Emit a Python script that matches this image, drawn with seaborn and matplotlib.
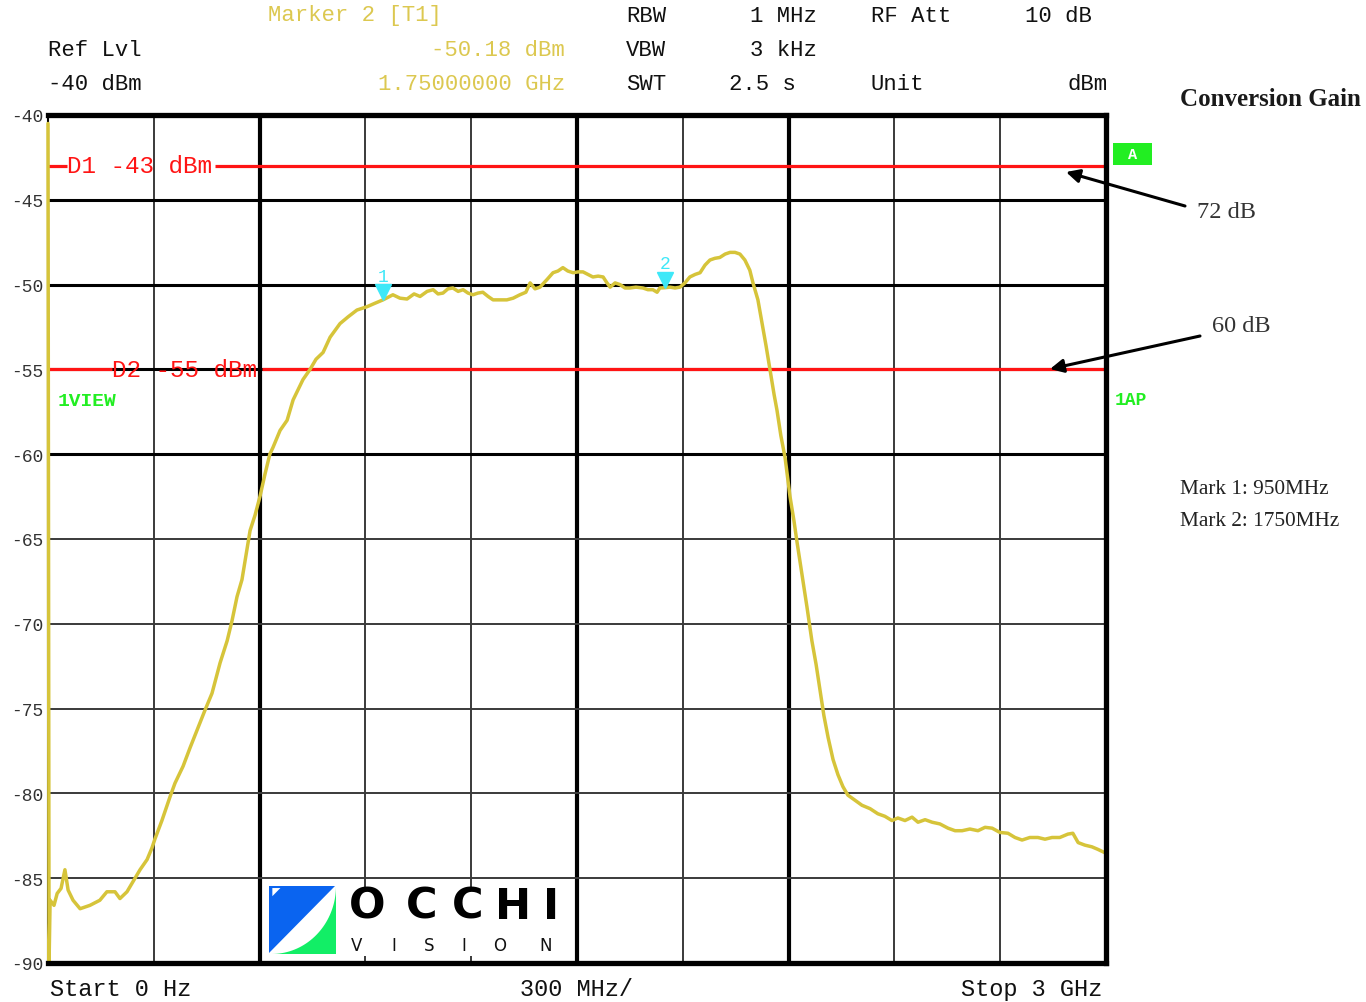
import numpy as np
import pandas as pd
import matplotlib
matplotlib.use("Agg")
import matplotlib.pyplot as plt
from matplotlib.patches import Polygon, Rectangle, FancyArrowPatch
import seaborn as sns

# ---------------- data ----------------
freq_ghz = [0.000, 0.003, 0.006, 0.017, 0.026, 0.037, 0.048, 0.057, 0.071, 0.091,
            0.119, 0.147, 0.167, 0.190, 0.204, 0.224, 0.241, 0.261, 0.281, 0.295,
            0.303, 0.323, 0.346, 0.360, 0.383, 0.403, 0.422, 0.445, 0.465, 0.488,
            0.508, 0.522, 0.536, 0.550, 0.573, 0.587, 0.601, 0.615, 0.629, 0.638,
            0.658, 0.678, 0.695, 0.723, 0.743, 0.760, 0.780, 0.800, 0.828, 0.851,
            0.876, 0.905, 0.927, 0.950, 0.978, 0.998, 1.018, 1.038, 1.055, 1.075,
            1.092, 1.106, 1.120, 1.134, 1.148, 1.163, 1.177, 1.191, 1.205, 1.219,
            1.233, 1.248, 1.262, 1.282, 1.301, 1.319, 1.338, 1.355, 1.367, 1.381,
            1.395, 1.415, 1.432, 1.446, 1.460, 1.474, 1.489, 1.503, 1.517, 1.531,
            1.545, 1.560, 1.574, 1.585, 1.594, 1.608, 1.622, 1.636, 1.650, 1.667,
            1.687, 1.701, 1.715, 1.727, 1.735, 1.750, 1.764, 1.778, 1.792, 1.806,
            1.820, 1.835, 1.849, 1.863, 1.877, 1.891, 1.905, 1.920, 1.934, 1.948,
            1.962, 1.976, 1.990, 1.999, 2.013, 2.025, 2.036, 2.047, 2.059, 2.067,
            2.078, 2.090, 2.098, 2.104, 2.115, 2.124, 2.138, 2.152, 2.166, 2.178,
            2.189, 2.200, 2.212, 2.226, 2.240, 2.254, 2.268, 2.288, 2.308, 2.331,
            2.353, 2.373, 2.393, 2.410, 2.430, 2.450, 2.467, 2.487, 2.507, 2.529,
            2.552, 2.572, 2.592, 2.614, 2.637, 2.657, 2.677, 2.699, 2.722, 2.742,
            2.762, 2.784, 2.807, 2.827, 2.847, 2.869, 2.892, 2.906, 2.921, 2.940,
            2.960, 2.977, 2.997]
level_dbm = [-40.5, -90.0, -86.3, -86.6, -85.9, -85.6, -84.5, -85.7, -86.3, -86.8,
             -86.6, -86.3, -85.8, -85.8, -86.2, -85.8, -85.2, -84.5, -83.9, -83.2,
             -82.7, -81.6, -80.2, -79.4, -78.4, -77.3, -76.3, -75.1, -74.1, -72.3,
             -71.0, -69.8, -68.4, -67.4, -64.5, -63.6, -62.5, -61.2, -60.0, -59.6,
             -58.6, -58.0, -56.8, -55.6, -55.0, -54.4, -54.0, -53.1, -52.3, -51.9,
             -51.5, -51.3, -51.1, -50.9, -50.6, -50.8, -50.85, -50.55, -50.7, -50.4,
             -50.3, -50.55, -50.5, -50.25, -50.2, -50.4, -50.3, -50.5, -50.6, -50.5,
             -50.45, -50.7, -50.9, -50.9, -50.9, -50.8, -50.6, -50.45, -49.9, -50.25,
             -50.15, -49.7, -49.3, -49.2, -49.0, -49.2, -49.3, -49.25, -49.25, -49.4,
             -49.55, -49.5, -49.55, -49.9, -50.15, -49.9, -50.0, -50.2, -50.2, -50.15,
             -50.2, -50.3, -50.3, -50.45, -50.2, -50.18, -50.15, -50.2, -50.15, -49.9,
             -49.55, -49.4, -49.3, -48.85, -48.55, -48.45, -48.4, -48.2, -48.1, -48.1,
             -48.2, -48.55, -49.15, -49.9, -50.9, -52.3, -53.6, -55.0, -56.5, -57.4,
             -58.9, -60.2, -61.5, -62.5, -63.9, -65.2, -67.1, -69.0, -71.0, -72.4,
             -73.9, -75.4, -76.7, -78.0, -78.9, -79.6, -80.1, -80.4, -80.7, -80.9,
             -81.2, -81.35, -81.6, -81.45, -81.6, -81.4, -81.7, -81.55, -81.7, -81.8,
             -82.05, -82.2, -82.2, -82.1, -82.2, -82.0, -82.05, -82.3, -82.35, -82.6,
             -82.75, -82.6, -82.6, -82.7, -82.6, -82.6, -82.4, -82.35, -82.9, -83.05,
             -83.15, -83.3, -83.5]

marker_freq = [0.95, 1.75]
marker_level = [-50.9, -50.18]
marker_names = ["1", "2"]

display_lines = [-43, -55]
display_labels = ["D1 -43 dBm", "D2 -55 dBm"]

ytick_values = [-40, -45, -50, -55, -60, -65, -70, -75, -80, -85, -90]
ytick_labels = [str(v) for v in ytick_values]

# ---------------- figure ----------------
sns.set_style("white")
plt.rcParams['font.family'] = ['DejaVu Sans']
W, H = 1366, 1003
fig = plt.figure(figsize=(W / 100, H / 100), dpi=100)
fig.patch.set_facecolor("white")

def fx(px):
    return px / W

def fy(py):
    return 1 - py / H

L, R, T, B = 48, 1106, 116, 964
ax = fig.add_axes([fx(L), fy(B), (R - L) / W, (B - T) / H])
ax.set_xlim(0, 3)
ax.set_ylim(-90, -40)

def px2f(px):
    return (px - L) / (R - L) * 3

# grid
thin_v = [0.3, 0.9, 1.2, 1.8, 2.4, 2.7]
thick_v = [0.6, 1.5, 2.1]
for v in thin_v:
    ax.axvline(v, color="#3a3a3a", lw=1.4, zorder=1)
for v in thick_v:
    ax.axvline(v, color="black", lw=3.0, zorder=1)
for h in [-65, -70, -75, -80, -85]:
    ax.axhline(h, color="#3a3a3a", lw=1.4, zorder=1)
for h in [-45, -50, -55, -60]:
    ax.axhline(h, color="black", lw=2.2, zorder=1)

# display lines (red) with gaps for their labels
gaps = [(67, 215), (112, 262)]
red = "#ff1414"
mono = "Liberation Mono"
for lvl, lab, (g0, g1) in zip(display_lines, display_labels, gaps):
    ax.plot([0, px2f(g0)], [lvl, lvl], color=red, lw=2.3, zorder=2, solid_capstyle="butt")
    ax.plot([px2f(g1), 3], [lvl, lvl], color=red, lw=2.3, zorder=2, solid_capstyle="butt")
    ax.text(px2f(g0), lvl, lab, color=red, family=mono, fontsize=17.5,
            va="center", ha="left", zorder=3)

# trace
df = pd.DataFrame({"freq": freq_ghz, "level": level_dbm})
sns.lineplot(data=df, x="freq", y="level", color="#d6c43a", lw=2.5, ax=ax,
             sort=False, estimator=None, zorder=4, clip_on=False)

# markers
cyan = "#3ee8f8"
for f, lv, nm in zip(marker_freq, marker_level, marker_names):
    ax.plot([f], [lv + 0.45], marker="v", color=cyan, markersize=11, zorder=6, ls="none")
    ax.text(f, lv + 0.9, nm, color=cyan, family=mono, fontsize=13,
            ha="center", va="bottom", zorder=6)

# axes styling
ax.set_xlabel("")
ax.set_ylabel("")
ax.set_xticks([])
ax.set_yticks(ytick_values)
ax.set_yticklabels(ytick_labels, family=mono, fontsize=13, color="#333333")
ax.tick_params(axis="y", length=0, pad=3)
for side in ["top", "bottom", "right"]:
    ax.spines[side].set_linewidth(3.8)
    ax.spines[side].set_color("black")
    ax.spines[side].set_zorder(7)
ax.spines["left"].set_linewidth(1.5)
ax.spines["left"].set_color("black")

ax.text(px2f(58), -56.86, "1VIEW", color="#22ee22", family=mono, fontsize=14,
        fontweight="bold", ha="left", va="center", zorder=5)

# white background behind logo
ax.add_patch(Rectangle((px2f(264), -89.6), px2f(570) - px2f(264), 4.1,
                       facecolor="white", edgecolor="none", zorder=5))

# ---------------- header text ----------------
yellow = "#dcc850"
dark = "#111111"
hs = 16
fig.text(fx(268), fy(16), "Marker 2 [T1]", color=yellow, family=mono, fontsize=hs, va="center", ha="left")
fig.text(fx(48), fy(50), "Ref Lvl", color=dark, family=mono, fontsize=hs, va="center", ha="left")
fig.text(fx(565), fy(50), "-50.18 dBm", color=yellow, family=mono, fontsize=hs, va="center", ha="right")
fig.text(fx(48), fy(84), "-40 dBm", color=dark, family=mono, fontsize=hs, va="center", ha="left")
fig.text(fx(565), fy(84), "1.75000000 GHz", color=yellow, family=mono, fontsize=hs, va="center", ha="right")
fig.text(fx(626), fy(16), "RBW", color=dark, family=mono, fontsize=hs, va="center", ha="left")
fig.text(fx(817), fy(16), "1 MHz", color=dark, family=mono, fontsize=hs, va="center", ha="right")
fig.text(fx(871), fy(16), "RF Att", color=dark, family=mono, fontsize=hs, va="center", ha="left")
fig.text(fx(1092), fy(16), "10 dB", color=dark, family=mono, fontsize=hs, va="center", ha="right")
fig.text(fx(626), fy(50), "VBW", color=dark, family=mono, fontsize=hs, va="center", ha="left")
fig.text(fx(817), fy(50), "3 kHz", color=dark, family=mono, fontsize=hs, va="center", ha="right")
fig.text(fx(626), fy(84), "SWT", color=dark, family=mono, fontsize=hs, va="center", ha="left")
fig.text(fx(729), fy(84), "2.5 s", color=dark, family=mono, fontsize=hs, va="center", ha="left")
fig.text(fx(871), fy(84), "Unit", color=dark, family=mono, fontsize=hs, va="center", ha="left")
fig.text(fx(1108), fy(84), "dBm", color=dark, family=mono, fontsize=hs, va="center", ha="right")

# bottom labels
bs = 17
fig.text(fx(50), fy(990), "Start 0 Hz", color=dark, family=mono, fontsize=bs, va="center", ha="left")
fig.text(fx(520), fy(990), "300 MHz/", color=dark, family=mono, fontsize=bs, va="center", ha="left")
fig.text(fx(1102), fy(990), "Stop 3 GHz", color=dark, family=mono, fontsize=bs, va="center", ha="right")

# right side
fig.patches.append(Rectangle((fx(1113), fy(166)), (1152 - 1113) / W, (166 - 144) / H,
                             transform=fig.transFigure, facecolor="#22ee22", edgecolor="none"))
fig.text(fx(1132.5), fy(155), "A", color="white", family=mono, fontsize=11, fontweight="bold",
         ha="center", va="center")
fig.text(fx(1115), fy(401), "1AP", color="#22ee22", family=mono, fontsize=13, fontweight="bold",
         ha="left", va="center")

serif = "Liberation Serif"
fig.text(fx(1180), fy(100), "Conversion Gain", color="#1a1a1a", family=serif, fontsize=18,
         fontweight="bold", ha="left", va="center")
fig.text(fx(1197), fy(212), "72 dB", color="#333333", family=serif, fontsize=17.5, ha="left", va="center")
fig.text(fx(1212), fy(326), "60 dB", color="#333333", family=serif, fontsize=17.5, ha="left", va="center")
fig.text(fx(1180), fy(490), "Mark 1: 950MHz", color="#222222", family=serif, fontsize=15.3, ha="left", va="center")
fig.text(fx(1180), fy(522), "Mark 2: 1750MHz", color="#222222", family=serif, fontsize=15.3, ha="left", va="center")

arrow = dict(arrowstyle="-|>", color="black", lw=2.2, mutation_scale=20, shrinkA=0, shrinkB=0)
fig.add_artist(FancyArrowPatch((fx(1185), fy(207)), (fx(1066), fy(173)),
               transform=fig.transFigure, **arrow))
fig.add_artist(FancyArrowPatch((fx(1200), fy(337)), (fx(1050), fy(370)),
               transform=fig.transFigure, **arrow))

# ---------------- logo ----------------
lax = fig.add_axes([fx(269), fy(955), (336 - 269) / W, (955 - 887) / H])
lax.set_xlim(0, 1)
lax.set_ylim(0, 1)
lax.axis("off")
lax.add_patch(Rectangle((0, 0), 1, 1, facecolor="white", edgecolor="none"))
lax.add_patch(Polygon([(0, 0.02), (0, 1), (0.98, 1)], closed=True, facecolor="#0a64f0", edgecolor="none"))
t = np.linspace(0, np.pi / 2, 40)
arc = list(zip(0.04 + 0.96 * np.sin(t), 1.0 - 1.0 * np.cos(t)))
lax.add_patch(Polygon(arc + [(1, 0)], closed=True, facecolor="#12ee66", edgecolor="none"))
lax.add_patch(Polygon([(0.05, 0.97), (0.17, 0.97), (0.05, 0.85)], closed=True, facecolor="white", edgecolor="none"))

for ch, cx in zip("OCCHI", [367, 422, 468, 513, 551]):
    fig.text(fx(cx), fy(907), ch, color="black", family="DejaVu Sans", fontsize=31,
             fontweight="bold", ha="center", va="center")
for ch, cx in zip("VISION", [357, 394, 429, 464, 500, 546]):
    fig.text(fx(cx), fy(946), ch, color="#111111", family="DejaVu Sans", fontsize=12,
             ha="center", va="center")

fig.savefig("out.png", dpi=100, facecolor="white")
